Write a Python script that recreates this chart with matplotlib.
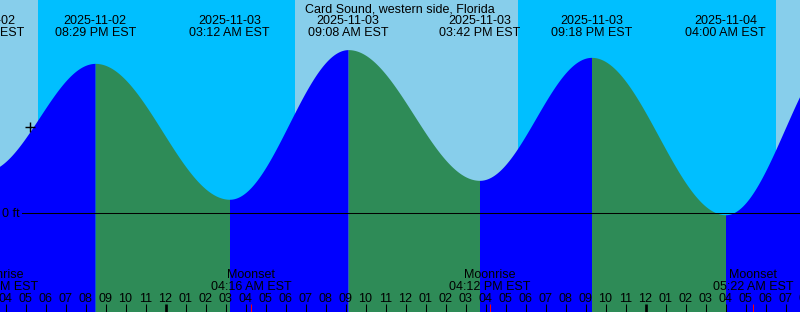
import numpy as np
import pandas as pd
import matplotlib
matplotlib.use('Agg')
import matplotlib.pyplot as plt

plt.rcParams['font.family'] = ['Liberation Sans', 'DejaVu Sans']

TITLE = "Card Sound, western side, Florida"

# tide extremes, EST, heights in ft
tide_times = ["2025-11-02 14:54", "2025-11-02 20:29", "2025-11-03 03:12",
              "2025-11-03 09:08", "2025-11-03 15:42", "2025-11-03 21:18",
              "2025-11-04 04:00", "2025-11-04 09:56"]
tide_heights = [0.48, 1.74, 0.16, 1.90, 0.38, 1.81, -0.02, 1.97]

moon_names = ["Moonrise", "Moonset", "Moonrise", "Moonset"]
moon_times = ["2025-11-02 15:36", "2025-11-03 04:16", "2025-11-03 16:12", "2025-11-04 05:22"]

sunset_times = ["2025-11-02 17:37", "2025-11-03 17:37"]
sunrise_times = ["2025-11-03 06:28", "2025-11-04 06:31"]

mark_time = "2025-11-02 17:13"
mark_height = 1.0

view_start = "2025-11-02 15:43:30"
view_end = "2025-11-04 07:43:30"

REF = pd.Timestamp("2025-11-03 00:00")

DAY_COL = '#87CEEB'
NIGHT_COL = '#00BFFF'
FLOOD_COL = '#0000FF'
EBB_COL = '#2E8B57'

W, H = 800, 312
YTOP, YBOT = 2.477, -1.151
FS = 9


def hrs(s):
    return (pd.Timestamp(s) - REF) / pd.Timedelta(hours=1)


def py(px):
    # pixel row -> axes fraction
    return 1 - px / H


fig = plt.figure(figsize=(W / 100, H / 100), dpi=100, facecolor=DAY_COL)
ax = fig.add_axes([0, 0, 1, 1])
ax.axis('off')
x0, x1 = hrs(view_start), hrs(view_end)
ax.set_xlim(x0, x1)
ax.set_ylim(YBOT, YTOP)
xt = ax.get_xaxis_transform()

# night
for s, r in zip(sunset_times, sunrise_times):
    ax.axvspan(hrs(s), hrs(r), color=NIGHT_COL, lw=0, zorder=0)

# tide curve, half cosine between extremes
th = [hrs(t) for t in tide_times]
for i in range(len(th) - 1):
    t = np.linspace(th[i], th[i + 1], 300)
    h0, h1 = tide_heights[i], tide_heights[i + 1]
    h = h0 + (h1 - h0) * (1 - np.cos(np.pi * (t - th[i]) / (th[i + 1] - th[i]))) / 2
    col = FLOOD_COL if h1 > h0 else EBB_COL
    ax.fill_between(t, h, YBOT, color=col, lw=0, antialiased=False, zorder=1)

# zero line
ax.axhline(0, xmin=22 / W, color='black', lw=0.75, zorder=2)
ax.text(2 / W, py(217.3), "0 ft", transform=ax.transAxes, fontsize=FS,
        ha='left', va='baseline', zorder=3)

ax.plot([hrs(mark_time)], [mark_height], marker='+', color='black',
        markersize=7, mew=1, zorder=3)

ax.text(0.5, py(12.7), TITLE, transform=ax.transAxes, fontsize=FS,
        ha='center', va='baseline', zorder=3)

# tide labels
for t in tide_times:
    ts = pd.Timestamp(t)
    ax.text(hrs(t), py(24.3), ts.strftime("%Y-%m-%d"), transform=xt,
            fontsize=FS, ha='center', va='baseline', zorder=3)
    ax.text(hrs(t), py(36), ts.strftime("%I:%M %p EST"), transform=xt,
            fontsize=FS, ha='center', va='baseline', zorder=3)

# moon labels + red ticks
for name, t in zip(moon_names, moon_times):
    ts = pd.Timestamp(t)
    ax.text(hrs(t), py(277.7), name, transform=xt, fontsize=FS,
            ha='center', va='baseline', zorder=3)
    ax.text(hrs(t), py(290.3), ts.strftime("%I:%M %p EST"), transform=xt,
            fontsize=FS, ha='center', va='baseline', zorder=3)
    ax.vlines(hrs(t), 0, py(304.3), transform=xt, color='red', lw=0.75, zorder=4)

# hour ticks
hours = pd.date_range(pd.Timestamp(view_start).ceil('h'),
                      pd.Timestamp(view_end).ceil('h'), freq='h')
for ts in hours:
    hx = (ts - REF) / pd.Timedelta(hours=1)
    ax.text(hx, py(302), ts.strftime("%I"), transform=xt, fontsize=FS,
            ha='center', va='baseline', zorder=3)
    lw = 1.9 if ts.hour == 0 else 0.75
    ax.vlines(hx, 0, py(304.3), transform=xt, color='black', lw=lw, zorder=3)

plt.savefig("out.png", dpi=100)
